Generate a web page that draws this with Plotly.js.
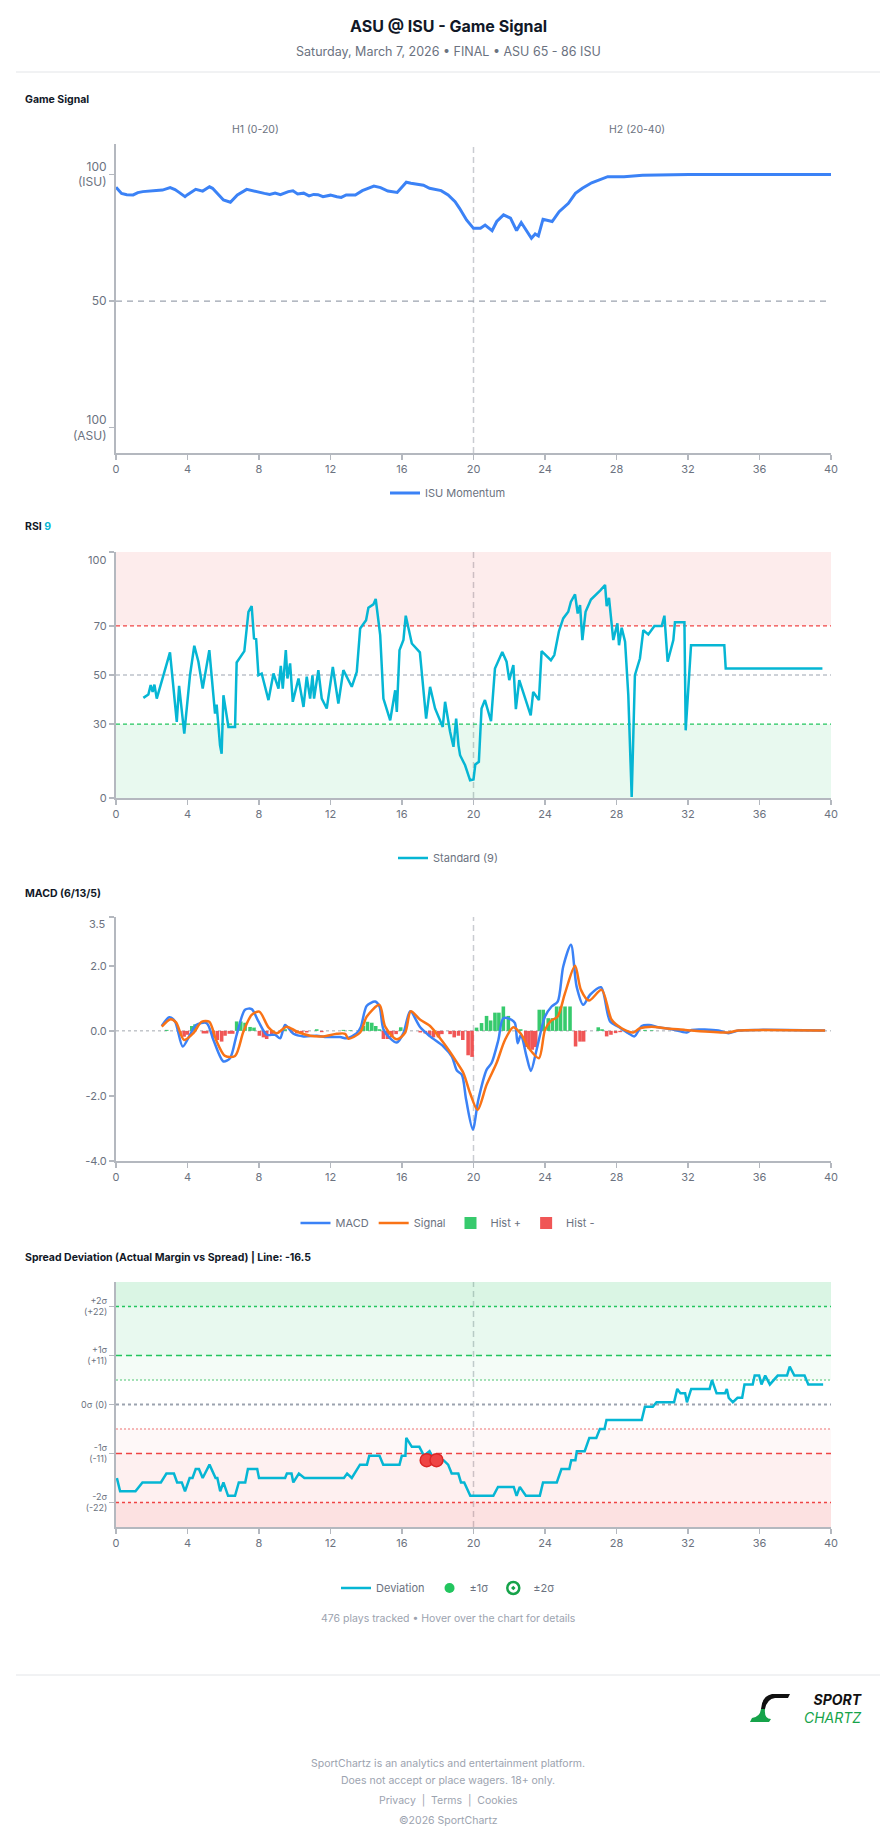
<!DOCTYPE html>
<html>
<head>
<meta charset="utf-8">
<script src="https://cdn.plot.ly/plotly-3.0.1.min.js"></script>
<style>
html,body{margin:0;padding:0;background:#ffffff;}
#chart{width:896px;height:1845px;}
</style>
</head>
<body>
<div id="chart"></div>
<script>
// ---------------- DATA ----------------
const xTicks = [0,4,8,12,16,20,24,28,32,36,40];

// Game Signal (ISU momentum, 0 = ASU 100, 100 = ISU 100)
const gameX = [0,0.31,0.6,0.96,1.22,1.5,2.25,2.6,3.03,3.3,3.55,3.86,4.0,4.46,4.85,5.23,5.4,5.62,6.01,6.4,6.79,7.31,7.95,8.3,8.6,8.9,9.2,9.64,9.9,10.16,10.5,10.8,11.06,11.3,11.58,12.0,12.36,12.6,12.88,13.39,13.78,14.43,14.8,15.0,15.21,15.73,16.24,16.5,16.89,17.2,17.54,18.19,18.58,18.97,19.22,19.61,20.0,20.39,20.65,21.04,21.3,21.68,22.07,22.41,22.67,22.98,23.24,23.45,23.63,23.89,24.4,24.79,25.31,25.7,26.09,26.61,27.51,28.42,29.46,32.05,40];
const gameY = [94.9,92.5,92.0,91.9,92.8,93.2,93.6,93.8,94.8,94.0,92.8,91.2,92.0,94.1,93.4,95.1,94.5,92.8,89.9,89.0,91.9,94.1,92.9,92.5,92.1,92.6,92.0,93.2,93.5,92.3,92.6,91.5,92.1,92.0,91.2,91.8,91.2,90.9,91.9,91.9,93.6,95.4,94.8,94.0,93.4,92.9,96.9,96.5,96.1,95.7,94.5,93.6,91.9,89.2,86.6,82.0,78.7,78.7,80.0,77.8,81.4,84.0,82.7,77.8,81.0,77.4,74.8,76.5,75.7,82.3,81.4,85.3,88.6,92.5,94.5,96.7,99.1,99.1,99.7,100,100];

// RSI (9)
const rsiX = [1.53,1.81,1.94,2.05,2.15,2.28,3.02,3.4,3.53,3.62,3.82,4.14,4.38,4.61,4.85,5.22,5.54,5.63,5.82,5.91,6.01,6.29,6.66,6.75,7.18,7.41,7.59,7.72,7.84,7.97,8.15,8.53,8.81,9.09,9.22,9.33,9.5,9.59,9.74,9.89,10.21,10.49,10.67,10.86,10.99,11.08,11.32,11.51,11.79,12.13,12.44,12.72,13.19,13.47,13.66,13.99,14.12,14.4,14.53,14.78,14.96,15.34,15.62,15.71,15.86,16.08,16.21,16.55,17.0,17.35,17.57,17.85,18.28,18.41,18.69,18.88,19.03,19.16,19.25,19.53,19.81,20.0,20.1,20.3,20.45,20.64,20.98,21.2,21.61,21.85,22.0,22.23,22.37,22.56,22.88,23.2,23.34,23.66,23.81,24.33,24.52,24.78,25.02,25.3,25.45,25.68,25.83,25.96,26.09,26.27,26.57,26.89,27.11,27.36,27.45,27.58,27.82,28.05,28.14,28.29,28.48,28.66,28.85,29.03,29.31,29.5,29.78,30.12,30.53,30.68,30.86,31.18,31.27,31.8,31.87,32.17,34.03,34.11,39.52];
const rsiY = [40.7,42.1,45.9,43.1,46.1,40.4,59.2,30.9,45.6,39.1,26.2,49.9,61.9,55.4,44.5,60.1,34.3,38,21.4,18,41.8,28.9,28.9,55.1,59.7,75.7,78,64.9,64.6,49.9,50.6,39.8,50.6,44.5,53.7,44.5,60.1,48.6,54.7,39.1,48.6,37,49.3,40.4,49.9,40.4,52,40.4,36.4,53.3,38.4,52,45.2,51.3,68.9,72.3,77.3,78.7,80.9,66.2,40.4,31.6,43.8,35,60.1,64.2,74.1,62.8,59.2,32.3,45.2,36.4,28.9,39.1,26.9,20.8,32.3,21.4,17.4,13.3,7.2,7.5,13.6,14.7,36.4,39.8,31.2,52.6,59.4,55.4,47.9,54,36.1,47.9,40.4,33.6,43.1,39.8,59.7,56,58.1,67.8,73,75.7,79.8,82.8,75,78.4,64.2,75.7,80.7,82.8,84.5,86.6,78,81.4,64.2,71,62.1,69.2,63.5,41.8,0.4,49.9,56.7,68.2,66.5,69.9,69.9,74.1,55.4,64.2,71.4,71.4,27.5,62.1,62.1,52.6,52.6];

// MACD (6/13/5)
const macdX = [2.56,2.98,3.3,3.73,4.14,4.48,5.07,5.45,6.01,6.38,6.75,7.22,7.59,7.97,8.43,8.9,9.18,9.46,9.93,10.49,11.23,11.79,12.54,12.91,13.47,13.69,14.03,14.5,14.74,14.96,15.34,15.71,16.08,16.46,17.02,17.57,18.32,18.79,19.07,19.35,19.59,19.96,20.27,20.73,21.01,21.39,21.67,22.13,22.32,22.47,22.65,22.97,23.21,23.53,24.0,24.37,24.71,25.02,25.45,25.77,26.14,26.52,27.13,27.64,28.1,28.66,29.0,29.41,29.82,30.34,31.09,31.93,32.21,33.7,34.26,34.82,35.94,39.67];
const macdY = [0.15,0.42,0.29,-0.48,-0.12,0.18,0.24,-0.28,-0.94,-0.84,-0.12,0.65,0.67,0.29,-0.12,-0.12,-0.23,0.18,-0.09,-0.17,-0.15,-0.19,-0.19,-0.23,-0.07,0.11,0.77,0.9,0.75,0.05,-0.23,-0.36,-0.07,0.6,0.11,-0.17,-0.48,-0.79,-1.22,-1.35,-2.12,-3.03,-2.12,-1.2,-0.99,-0.28,0.39,0.34,0.24,-0.38,-0.12,-0.79,-1.23,-0.58,0.44,0.75,0.9,1.98,2.65,1.36,0.8,1.11,1.34,0.29,0.13,-0.07,-0.17,0.15,0.18,0.11,0.05,-0.05,0.03,0.01,-0.07,0.01,0.03,0.01];
const signalX = [2.56,3.06,3.36,3.81,4.33,4.79,5.22,5.6,6.1,6.66,7.13,7.59,8.02,8.53,8.99,9.55,10.11,10.86,11.6,12.35,12.82,13.0,13.66,14.03,14.74,15.06,15.71,16.18,16.49,17.02,17.57,18.13,18.6,19.07,19.44,19.8,20.23,20.73,21.29,21.76,22.23,22.65,23.16,23.66,24.0,24.33,24.71,25.12,25.68,26.01,26.46,27.17,27.73,28.29,28.94,29.31,29.97,30.71,31.83,32.21,34.26,34.82,39.67];
const signalY = [0.13,0.36,0.26,-0.28,-0.07,0.28,0.28,-0.28,-0.77,-0.77,-0.02,0.49,0.59,0.11,-0.07,0.13,-0.02,-0.15,-0.17,-0.09,-0.09,-0.24,-0.05,0.44,0.8,0.13,-0.26,-0.05,0.6,0.34,0.15,-0.23,-0.58,-0.97,-1.3,-1.9,-2.43,-1.66,-0.99,-0.28,0.11,-0.09,-0.58,-0.84,0.03,0.31,0.44,1.16,2.0,1.26,0.93,1.26,0.34,0.08,-0.05,0.08,0.13,0.08,0.03,0.01,-0.05,0.01,0.01];
const histX = [2.84,3.58,3.81,3.99,4.24,4.42,4.89,5.07,5.45,5.67,5.91,6.1,6.34,6.53,6.75,6.98,7.22,7.5,7.72,8.02,8.25,8.43,8.71,9.46,9.83,10.11,10.39,10.67,11.23,11.51,12.72,13.1,13.84,14.07,14.31,14.53,14.74,14.96,15.19,15.43,15.67,15.93,17.02,17.3,17.54,17.76,18.04,18.23,18.69,18.92,19.16,19.4,19.7,19.92,20.17,20.45,20.73,20.96,21.2,21.42,21.67,21.95,22.64,22.92,23.1,23.29,23.48,23.68,23.9,24.18,24.41,24.65,24.87,25.12,25.4,25.71,25.96,26.16,26.98,27.19,27.45,27.69,27.95,28.2,29.59,29.97];
const histY = [0.03,-0.15,-0.18,-0.12,0.15,0.2,-0.08,-0.08,-0.2,-0.28,-0.33,-0.15,-0.09,-0.09,0.29,0.29,0.25,0.12,0.1,-0.15,-0.2,-0.25,-0.1,0.05,-0.05,-0.08,-0.06,-0.05,0.05,-0.04,0.03,0.02,0.15,0.28,0.25,0.15,0.05,-0.25,-0.25,-0.2,-0.1,0.11,-0.05,-0.08,-0.15,-0.2,-0.2,-0.1,-0.1,-0.2,-0.15,-0.28,-0.75,-0.8,0.1,0.24,0.46,0.32,0.56,0.56,0.75,0.46,0.05,-0.5,-0.55,-0.58,-0.5,0.65,0.65,0.39,0.39,0.75,0.75,0.75,0.75,-0.48,-0.33,-0.33,0.11,0.05,-0.17,-0.12,-0.07,-0.04,0.03,0.02];

// Spread deviation (actual margin vs spread), sigma = 11
const devX = [0.05,0.23,1.09,1.48,2.51,2.82,3.24,3.42,3.68,3.86,4.12,4.28,4.46,4.64,4.85,5.23,5.57,5.67,5.83,6.01,6.27,6.66,6.87,7.23,7.38,7.9,8.0,9.46,9.56,9.82,9.92,10.23,10.54,12.75,12.93,13.19,13.65,14.04,14.17,14.74,14.95,15.86,15.99,16.19,16.24,16.55,16.97,17.23,17.54,17.8,18.32,18.58,18.78,19.15,19.3,19.48,19.82,21.11,21.37,22.25,22.41,22.59,22.93,23.71,23.89,24.66,24.92,25.36,25.47,25.7,25.78,26.22,26.48,26.87,27.07,27.33,27.44,29.41,29.59,30.03,30.24,31.22,31.4,31.58,31.84,31.94,32.18,33.21,33.34,33.6,34.07,34.17,34.28,34.51,34.77,35.03,35.16,35.62,35.73,35.98,36.11,36.32,36.58,37.02,37.54,37.69,37.95,38.52,38.73,39.56];
const devY = [-16.5,-19.5,-19.5,-17.5,-17.5,-15.5,-15.5,-17.5,-17.5,-19.5,-16.5,-16.5,-14.5,-14.5,-16.5,-13.5,-16.5,-16.5,-19.5,-17.5,-20.5,-20.5,-17.5,-17.5,-14.5,-14.5,-16.5,-16.5,-15.5,-15.5,-17.5,-15.5,-16.5,-16.5,-15.5,-16.5,-13.5,-13.5,-11.5,-11.5,-13.5,-13.5,-11.5,-11.5,-7.5,-9.5,-9.5,-11.5,-10.5,-12.5,-12.5,-13.5,-15.5,-15.5,-17.5,-17.5,-20.5,-20.5,-18.5,-18.5,-20.5,-18.5,-20.5,-20.5,-17.5,-17.5,-14.5,-14.5,-12.5,-12.5,-10.5,-10.5,-7.5,-7.5,-5.5,-5.5,-3.5,-3.5,-0.5,-0.5,0.5,0.5,3.5,2.5,2.5,0.5,3.5,3.5,5.5,2.5,2.5,3.5,1.5,0.5,1.5,1.5,4.5,4.5,6.5,6.5,4.5,6.5,4.5,6.5,6.5,8.5,6.5,6.5,4.5,4.5];
const alertX = [17.38, 17.93];
const alertY = [-12.5, -12.5];
const sigma = 11;
const spreadTickVals = [22, 11, 0, -11, -22];
const spreadTickText = ['+2σ<br>(+22)', '+1σ<br>(+11)', '0σ (0)', '-1σ<br>(-11)', '-2σ<br>(-22)'];

// ---------------- LAYOUT ----------------
const W = 896, H = 1845;
const px = v => v / W;
const py = v => 1 - v / H;
const FONT = 'Inter, "Noto Sans", "DejaVu Sans", sans-serif';
const GRAY = '#6b7280';
const AXIS = '#b4b8bf';
const XL = 116, XR = 831;

function xAxis(anchor) {
  return {
    domain: [px(XL), px(XR)], range: [0, 40], anchor: anchor,
    tickvals: xTicks, showline: true, linecolor: AXIS, linewidth: 2,
    ticks: 'outside', ticklen: 5, tickwidth: 1.5, tickcolor: AXIS,
    tickfont: {size: 11, color: GRAY, family: FONT},
    showgrid: false, zeroline: false, fixedrange: true
  };
}
function yAxis(anchor, top, bottom, range, vals, text, fsize) {
  return {
    domain: [py(bottom), py(top)], range: range, anchor: anchor,
    tickvals: vals, ticktext: text, showline: true, linecolor: AXIS, linewidth: 2,
    ticks: 'outside', ticklen: 5, tickwidth: 1.5, tickcolor: AXIS,
    tickfont: {size: fsize || 11, color: GRAY, family: FONT},
    showgrid: false, zeroline: false, fixedrange: true
  };
}

const traces = [];
// Game signal
traces.push({type: 'scatter', mode: 'lines', x: gameX, y: gameY, xaxis: 'x', yaxis: 'y',
  name: 'ISU Momentum', legend: 'legend', line: {color: '#3b82f6', width: 3}});
// RSI
traces.push({type: 'scatter', mode: 'lines', x: rsiX, y: rsiY, xaxis: 'x2', yaxis: 'y2',
  name: 'Standard (9)', legend: 'legend2', line: {color: '#06b6d4', width: 2.5}});
// MACD
traces.push({type: 'scatter', mode: 'lines', x: macdX, y: macdY, xaxis: 'x3', yaxis: 'y3',
  name: 'MACD', legend: 'legend3', line: {color: '#3b82f6', width: 2.5, shape: 'spline', smoothing: 0.8}});
traces.push({type: 'scatter', mode: 'lines', x: signalX, y: signalY, xaxis: 'x3', yaxis: 'y3',
  name: 'Signal', legend: 'legend3', line: {color: '#f97316', width: 2.5, shape: 'spline', smoothing: 0.8}});
const hpX = [], hpY = [], hnX = [], hnY = [];
histX.forEach((x, i) => { if (histY[i] >= 0) { hpX.push(x); hpY.push(histY[i]); } else { hnX.push(x); hnY.push(histY[i]); } });
traces.push({type: 'bar', x: hpX, y: hpY, xaxis: 'x3', yaxis: 'y3', width: 0.2,
  name: 'Hist +', legend: 'legend3', marker: {color: '#22c55e', line: {width: 0}}, opacity: 0.9});
traces.push({type: 'bar', x: hnX, y: hnY, xaxis: 'x3', yaxis: 'y3', width: 0.2,
  name: 'Hist -', legend: 'legend3', marker: {color: '#ef4444', line: {width: 0}}, opacity: 0.9});
// Spread deviation
traces.push({type: 'scatter', mode: 'lines', x: devX, y: devY, xaxis: 'x4', yaxis: 'y4',
  name: 'Deviation', legend: 'legend4', line: {color: '#06b6d4', width: 2.5}});
traces.push({type: 'scatter', mode: 'markers', x: alertX, y: alertY, xaxis: 'x4', yaxis: 'y4',
  showlegend: false, marker: {color: '#ef4444', size: 13, line: {color: '#dc2626', width: 1.5}}});
traces.push({type: 'scatter', mode: 'markers', x: [null], y: [null], xaxis: 'x4', yaxis: 'y4',
  name: '±1σ', legend: 'legend4', marker: {color: '#22c55e', size: 10}});
traces.push({type: 'scatter', mode: 'markers', x: [null], y: [null], xaxis: 'x4', yaxis: 'y4',
  name: '±2σ', legend: 'legend4', marker: {color: '#ffffff', size: 12, symbol: 'circle-dot', line: {color: '#16a34a', width: 2.5}}});

const shapes = [];
function hline(xa, ya, y, color, dash, width) {
  shapes.push({type: 'line', xref: xa, yref: ya, x0: 0, x1: 40, y0: y, y1: y,
    line: {color: color, dash: dash, width: width || 1.2}, layer: 'below'});
}
function band(xa, ya, y0, y1, fill) {
  shapes.push({type: 'rect', xref: xa, yref: ya, x0: 0, x1: 40, y0: y0, y1: y1,
    fillcolor: fill, line: {width: 0}, layer: 'below'});
}
// half-time lines
['', '2', '3', '4'].forEach(s => {
  shapes.push({type: 'line', xref: 'x' + s, yref: 'y' + s + ' domain', x0: 20, x1: 20, y0: 0, y1: 1,
    line: {color: '#c9ccd1', dash: '6px,4px', width: 1.5}, layer: 'below'});
});
// game signal midline
hline('x', 'y', 50, '#9ca3af', '6px,5px', 1.2);
// RSI zones
band('x2', 'y2', 70, 100, 'rgba(239,68,68,0.10)');
band('x2', 'y2', 0, 30, 'rgba(34,197,94,0.10)');
hline('x2', 'y2', 70, '#ef4444', '4px,3px', 1.2);
hline('x2', 'y2', 50, '#9ca3af', '4px,3px', 1.2);
hline('x2', 'y2', 30, '#22c55e', '4px,3px', 1.2);
// MACD zero
hline('x3', 'y3', 0, '#a3a8b0', '3px,3px', 1);
// spread zones
band('x4', 'y4', 2 * sigma, 2.5 * sigma, 'rgba(34,197,94,0.17)');
band('x4', 'y4', sigma, 2 * sigma, 'rgba(34,197,94,0.10)');
band('x4', 'y4', 0.5 * sigma, sigma, 'rgba(34,197,94,0.05)');
band('x4', 'y4', -sigma, -0.5 * sigma, 'rgba(239,68,68,0.04)');
band('x4', 'y4', -2 * sigma, -sigma, 'rgba(239,68,68,0.08)');
band('x4', 'y4', -2.5 * sigma, -2 * sigma, 'rgba(239,68,68,0.16)');
hline('x4', 'y4', 2 * sigma, '#22c55e', '3px,3px', 1.5);
hline('x4', 'y4', sigma, '#22c55e', '6px,4px', 1.5);
hline('x4', 'y4', 0.5 * sigma, '#86d8a0', '2px,2px', 1.5);
hline('x4', 'y4', 0, '#9ca3af', '3px,3px', 2);
hline('x4', 'y4', -0.5 * sigma, '#f3a0a0', '2px,2px', 1.5);
hline('x4', 'y4', -sigma, '#ef4444', '6px,4px', 1.5);
hline('x4', 'y4', -2 * sigma, '#ef4444', '3px,3px', 1.5);
// separators
shapes.push({type: 'line', xref: 'paper', yref: 'paper', x0: px(16), x1: px(880), y0: py(72), y1: py(72), line: {color: '#e3e5e8', width: 1}});
shapes.push({type: 'line', xref: 'paper', yref: 'paper', x0: px(16), x1: px(880), y0: py(1675), y1: py(1675), line: {color: '#e3e5e8', width: 1}});
// logo swoosh
function pth(pts) {
  return pts.map(p => (p[0] + ' ' + px(p[1]).toFixed(5) + ',' + py(p[2]).toFixed(5))).join(' ') + ' Z';
}
shapes.push({type: 'path', xref: 'paper', yref: 'paper', fillcolor: '#111111', line: {width: 0},
  path: pth([['M', 790, 1694], ['L', 772, 1694], ['Q', 762, 1696], ['', 761, 1709], ['L', 765, 1709], ['Q', 767, 1699], ['', 775, 1698], ['L', 788, 1698]])});
shapes.push({type: 'path', xref: 'paper', yref: 'paper', fillcolor: '#16a34a', line: {width: 0},
  path: pth([['M', 761, 1709], ['Q', 760, 1717], ['', 752, 1718], ['L', 750, 1722], ['L', 769, 1722], ['L', 771, 1719], ['Q', 764, 1719], ['', 765, 1709]])});

const annotations = [];
function txt(x, y, text, size, color, opts) {
  annotations.push(Object.assign({xref: 'paper', yref: 'paper', x: px(x), y: py(y), text: text,
    showarrow: false, xanchor: 'center', yanchor: 'middle',
    font: {size: size, color: color, family: FONT}}, opts || {}));
}
txt(448, 26, '<b>ASU @ ISU - Game Signal</b>', 16, '#111827');
txt(448, 52, 'Saturday, March 7, 2026 • FINAL • ASU 65 - 86 ISU', 12.5, GRAY);
txt(23, 99, '<b>Game Signal</b>', 10.5, '#111827', {xanchor: 'left'});
txt(255, 130, 'H1 (0-20)', 10.5, GRAY);
txt(637, 130, 'H2 (20-40)', 10.5, GRAY);
txt(23, 527, '<b>RSI <span style="color:#06b6d4">9</span></b>', 10.5, '#111827', {xanchor: 'left'});
txt(23, 893, '<b>MACD (6/13/5)</b>', 10.5, '#111827', {xanchor: 'left'});
txt(23, 1257, '<b>Spread Deviation (Actual Margin vs Spread) | Line: -16.5</b>', 10.5, '#111827', {xanchor: 'left'});
// top tick labels sit just inside the plot top, as in the reference
txt(108, 560, '100', 11, GRAY, {xanchor: 'right'});
txt(108, 924, '3.5', 11, GRAY, {xanchor: 'right'});
txt(448, 1618, '476 plays tracked • Hover over the chart for details', 10.5, '#9ca3af');
txt(448, 1763, 'SportChartz is an analytics and entertainment platform.', 10.5, '#9ca3af');
txt(448, 1780, 'Does not accept or place wagers. 18+ only.', 10.5, '#9ca3af');
txt(448, 1800, 'Privacy  |  Terms  |  Cookies', 10.5, '#9ca3af');
txt(448, 1820, '©2026 SportChartz', 10.5, '#9ca3af');
// logo wordmark (one text block, two lines)
txt(864, 1708, '<b><i>SPORT</i></b><br><span style="color:#16a34a"><i>CHARTZ</i></span>', 14, '#111111', {xanchor: 'right', align: 'right'});

function leg(y) {
  return {x: 0.5, xanchor: 'center', y: py(y), yanchor: 'middle', orientation: 'h',
    font: {size: 11, color: GRAY, family: FONT}, bgcolor: 'rgba(0,0,0,0)', itemwidth: 30, itemclick: false, itemdoubleclick: false};
}

const layout = {
  width: W, height: H, margin: {l: 0, r: 0, t: 0, b: 0},
  paper_bgcolor: '#ffffff', plot_bgcolor: 'rgba(0,0,0,0)',
  font: {family: FONT, color: GRAY},
  hovermode: false, showlegend: true, barmode: 'overlay',
  xaxis: xAxis('y'),
  yaxis: yAxis('x', 144, 453, [-10, 112], [0, 50, 100], ['100<br>(ASU)', '50', '100<br>(ISU)'], 12),
  xaxis2: xAxis('y2'),
  yaxis2: yAxis('x2', 552, 798, [0, 100], [0, 30, 50, 70, 100], ['0', '30', '50', '70', ''], 11),
  xaxis3: xAxis('y3'),
  yaxis3: yAxis('x3', 917, 1161, [-4, 3.5], [-4, -2, 0, 2, 3.5], ['-4.0', '-2.0', '0.0', '2.0', ''], 11),
  xaxis4: xAxis('y4'),
  yaxis4: yAxis('x4', 1282, 1527, [-2.5 * sigma, 2.5 * sigma], spreadTickVals, spreadTickText, 9),
  legend: leg(493), legend2: leg(858), legend3: leg(1223), legend4: leg(1588),
  shapes: shapes, annotations: annotations
};

Plotly.newPlot('chart', traces, layout, {displayModeBar: false, responsive: false, staticPlot: true});
</script>
</body>
</html>
